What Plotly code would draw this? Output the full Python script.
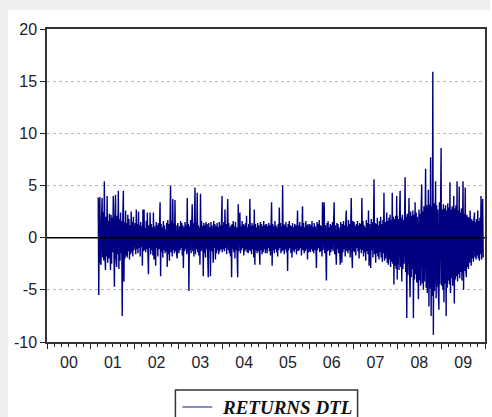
import pandas as pd
import plotly.graph_objects as go

# Daily returns of DTL (%), sampled per year
r2001 = [3.85, -5.5, 2.1, 3.9, -2.3, -2.6, 1.8, 3.8, -1.9, 2.4, -2.2, 5.4, -1.5, -3.1, 2.0, -1.8,
         4.0, -2.4, 1.6, -2.0, 2.3, -1.7, -3.1, 2.2, -2.5, 1.9, -1.4, 4.0, -2.0, -4.7, 1.7, 4.1,
         -1.9, -2.8, 2.1, -1.6, 4.5, -3.0, 1.8, -2.2, 2.4, -1.5, 1.6, -7.5, 1.9, 4.5, -4.2, 1.5,
         -2.0, 2.6, -1.7, 1.4, -1.9, 2.2, -1.3, 1.8, -2.1, 1.2, -1.6, 2.5, -1.4, 1.5, -1.8, 2.0,
         -1.2, 1.3]
r2002 = [-1.2, 1.4, -1.6, 2.7, -1.1, 1.3, -1.5, 2.5, -1.0, 1.2, -1.8, 1.5, -0.9, 1.1, -2.7, 2.7,
         -1.3, 2.7, -1.2, 0.9, -1.4, 1.6, -1.1, 2.4, -1.5, -3.5, 1.2, -1.0, 2.4, -1.6, 1.3, -1.2,
         1.0, -1.7, 2.4, -2.1, 1.1, -1.3, -2.7, 1.5, -1.0, 1.2, -1.8, 1.4, -1.1, 0.9, 3.4, -3.7,
         1.3, -1.4, 1.0, -1.9, 1.6, -1.2, 1.2, -1.5, 0.8, -1.3, 1.4, -2.8, 1.7, -1.6, 1.3, -2.2,
         1.5, 5.0, -1.4, 1.6, -1.8, 3.7, -1.2, 1.4, -1.5, 3.6, -1.3, 1.2, -1.6, -2.0, 1.4, -1.1]
r2003 = [1.3, -1.5, 1.1, -1.2, 1.6, -1.0, 1.4, -1.7, 1.2, -2.9, 1.0, -1.3, 1.5, -1.1, 1.2, -1.6,
         3.8, -1.4, 1.3, -5.1, 1.1, -1.2, 1.7, -1.5, 1.0, 3.2, -1.3, 1.4, -1.8, 1.2, 4.8, -1.6,
         1.5, -1.1, 4.3, -1.4, 1.2, -1.7, 1.0, -2.6, 4.2, -1.3, 1.6, -1.2, 1.1, -3.7, 1.4, -1.5,
         1.2, -1.9, 1.5, -1.1, 1.3, -1.6, -3.8, 1.4, -1.2, 1.0, -3.7, 1.5, -1.3, 1.2, -1.4, -2.4,
         1.6, -1.0, 1.3, -2.1, 1.1, -1.5, 1.4, -1.2, 1.0, -1.6, 1.5, -1.3, 1.2, -1.1, 1.7, 4.0]
r2004 = [-1.4, 1.2, -1.1, 1.5, -1.3, 2.7, -1.0, 1.3, -1.6, 1.1, 3.7, -1.2, 1.4, -1.5, 1.0, -1.8,
         1.2, -3.8, 1.3, -1.1, 1.6, -1.4, 1.1, -2.0, 1.5, -1.2, 1.0, -1.6, -3.8, 3.2, -1.3, 1.2,
         2.4, -1.5, 1.1, -1.2, 1.6, -1.0, 1.3, -1.7, 1.2, -1.3, 1.4, -1.1, 2.1, -1.4, 1.0, -1.5,
         1.3, -1.2, 3.7, -1.3, 1.1, -1.6, 1.4, -1.1, 1.2, -1.9, 2.7, -2.6, 1.3, -1.2, 1.0, -1.5,
         1.4, -1.3, 1.2, -1.0, -2.6, 1.5, -1.2, 1.3, -1.6, 1.1, -1.4, 1.6, -1.1, 1.2, -1.5, 1.3]
r2005 = [-1.2, 1.3, -1.5, 1.1, -1.0, 1.4, -1.3, 1.2, -1.7, 1.0, 3.4, -2.7, 1.3, -1.2, 1.1, -1.5,
         1.6, -1.1, 1.2, -1.4, 1.0, -1.8, 1.3, -1.2, 2.9, -1.0, 1.4, -1.5, 1.1, -1.3, 5.0, -1.2,
         1.3, -1.6, 1.2, -1.1, 1.5, -1.4, 1.0, -3.2, 1.3, -1.2, 1.6, -1.0, 1.2, -1.5, 1.1, -1.9,
         1.4, -1.2, 1.0, -1.4, 1.3, -1.1, 1.2, -1.6, 1.0, 2.6, -1.3, 1.2, -1.2, 1.5, -1.0, 1.1,
         -1.7, 1.3, 3.0, -1.2, 1.4, -1.5, 1.0, -1.3, 1.6, -1.1, 1.2, -2.1, 1.3, -1.4, 1.1, -1.2]
r2006 = [1.3, -1.4, 1.2, -1.1, 1.6, -1.3, 1.0, -1.5, 1.4, -1.2, 1.1, -1.6, -2.9, 1.5, -1.2, 1.3,
         -1.0, 1.7, -1.4, 1.2, -1.3, 1.1, -1.8, 3.4, -1.2, 1.3, 3.4, -1.5, 1.2, -1.1, -4.1, 1.4,
         -1.3, 1.6, -1.2, 1.0, -1.7, 1.3, -1.4, 1.2, -1.1, 1.5, -1.3, 1.1, 3.4, -1.6, 1.2, -1.2,
         -2.6, 1.4, -1.1, 1.3, -1.5, 1.0, -1.3, -2.6, 1.5, -1.2, -2.4, 1.3, -1.4, 1.6, -1.1, 1.2,
         -1.8, 1.4, 2.6, -1.3, 1.1, -1.5, 1.7, -1.2, 1.3, -1.9, 1.5, 3.8, -1.4, -2.9, 1.6, -1.3]
r2007 = [-1.2, 1.5, -1.4, 1.1, -1.7, 1.3, -1.0, 1.6, -1.3, 1.2, -2.0, 1.4, -1.1, 1.3, -1.5, 3.8,
         -1.2, 1.6, -1.8, 1.2, -1.4, 1.0, -2.2, 1.7, -1.3, 1.4, -1.6, 2.6, -2.7, 1.3, -1.5, -2.9,
         1.8, -1.2, 1.5, -1.9, 1.2, 5.6, -1.6, 1.4, -2.4, 1.3, -1.5, 1.9, -1.8, 1.2, -2.1, 1.6,
         -1.4, 2.0, -1.9, 1.3, -2.3, 1.7, -1.5, 4.3, -2.2, 1.5, -2.0, 1.8, 2.4, -2.4, 1.6, -2.6,
         1.9, -2.1, 2.2, -2.8, 1.7, -2.3, 4.3, -2.5, 2.0, -4.5, 1.8, -2.7, 2.1, -3.0, 4.0, -4.0]
r2008 = [2.1, -2.6, 1.8, -3.1, 2.3, 4.5, -2.8, 1.9, -4.2, 2.2, -3.0, 1.7, -2.5, 2.4, 5.8, -3.3,
         2.0, -7.7, 2.3, -3.6, 1.9, 3.8, -3.2, -5.7, 2.5, -3.8, 2.1, -3.0, 2.6, -7.7, 2.2, -4.0,
         3.4, -3.5, 2.4, -4.3, 2.0, -3.9, -5.9, 2.7, -4.1, 2.3, -4.6, 2.9, 5.1, -4.4, 2.5, -5.0,
         3.0, -4.2, 2.6, 6.6, -4.8, 3.1, -5.3, 2.8, 4.6, -6.6, 3.2, -4.9, 7.7, -7.5, 3.0, -5.6,
         15.9, -9.3, 3.3, -5.1, 2.9, 5.4, -5.8, 3.1, -4.7, 2.7, -5.2, -6.9, 3.4, -4.5, 3.0, 8.6]
r2009 = [3.0, -4.6, 2.7, -5.0, 3.2, -6.2, 2.8, -4.4, 3.1, -7.5, 2.6, -4.8, 3.3, -4.1, 2.9, -4.5,
         5.3, -5.3, 2.7, -3.9, 3.0, -4.6, 2.5, 4.0, -6.3, 2.8, -4.0, 3.1, -3.7, 5.4, -4.2, 2.6,
         -3.5, 4.9, -3.9, 2.4, -3.3, 2.8, -4.1, 2.5, 5.4, -5.0, 2.3, -3.2, 4.8, -2.9, -3.8, 2.2,
         -2.8, 2.0, -3.0, 1.9, -2.4, 2.6, -2.2, -2.7, 1.8, -2.0, 1.6, -2.3, 1.7, 2.4, -1.9, 1.5,
         -2.1, 1.8, -1.7, 2.6, -2.0, 1.6, -2.2, 1.9, -1.6, 4.0, -2.1, 1.7, 3.7, -1.9]

# (first date, last date, returns) for each year of the sample
segments = [
    ("2001-03-03", "2001-12-31", r2001),
    ("2002-01-01", "2002-12-31", r2002),
    ("2003-01-01", "2003-12-31", r2003),
    ("2004-01-01", "2004-12-31", r2004),
    ("2005-01-01", "2005-12-31", r2005),
    ("2006-01-01", "2006-12-31", r2006),
    ("2007-01-01", "2007-12-31", r2007),
    ("2008-01-01", "2008-12-31", r2008),
    ("2009-01-01", "2009-12-17", r2009),
]

dates, returns = [], []
for first, last, vals in segments:
    dates.extend(pd.date_range(first, last, periods=len(vals)))
    returns.extend(vals)

y_ticks = [-10, -5, 0, 5, 10, 15, 20]
y_tick_text = ["-10", "-5", "0", "5", "10", "15", "20"]
series_name = "RETURNS DTL"

L, R, T, B = 47, 5, 29, 75
W, H = 492, 417
pw, ph = W - L - R, H - T - B


def px_x(p):
    return (p - L) / pw


def px_y(p):
    return (H - B - p) / ph


fig = go.Figure()
fig.add_trace(go.Scatter(
    x=dates, y=returns, mode="lines",
    line=dict(color="#000080", width=1.4),
    name=series_name, showlegend=False, hoverinfo="skip",
))

tick_font = dict(family="Liberation Sans, Arial, sans-serif", size=16, color="#1c1c2c")

fig.update_layout(
    width=W, height=H,
    margin=dict(l=L, r=R, t=T, b=B),
    paper_bgcolor="white", plot_bgcolor="white",
    showlegend=False,
    xaxis=dict(
        type="date",
        range=["2000-01-01", "2010-01-01"],
        tick0="2000-01-01", dtick="M12", tickformat="%y",
        ticklabelmode="period",
        ticks="outside", ticklen=5, tickwidth=1, tickcolor="#222",
        minor=dict(dtick="M2", ticks="outside", ticklen=3, tickwidth=1, tickcolor="#222", showgrid=False),
        showgrid=False, zeroline=False,
        showline=True, mirror=True, linecolor="#333", linewidth=1.5,
        tickfont=tick_font,
    ),
    yaxis=dict(
        range=[-10, 20], tickvals=y_ticks, ticktext=y_tick_text,
        ticks="outside", ticklen=5, tickwidth=1, tickcolor="#222",
        showgrid=True, gridcolor="#b8b8b8", griddash="dot", gridwidth=1,
        zeroline=False,
        showline=True, mirror=True, linecolor="#333", linewidth=1.5,
        tickfont=tick_font,
    ),
)

shapes = [
    # zero reference line over the series
    dict(type="line", xref="paper", yref="y", x0=0, x1=1, y0=0, y1=0,
         line=dict(color="black", width=1.5), layer="above"),
    # legend frame
    dict(type="rect", xref="paper", yref="paper",
         x0=px_x(176), x1=px_x(359), y0=px_y(425), y1=px_y(390),
         line=dict(color="#333", width=1.5), fillcolor="white"),
    # legend line sample
    dict(type="line", xref="paper", yref="paper",
         x0=px_x(183), x1=px_x(213), y0=px_y(407), y1=px_y(407),
         line=dict(color="#3c3ca0", width=1.2)),
    # light page edges
    dict(type="rect", xref="paper", yref="paper",
         x0=px_x(0), x1=px_x(8), y0=px_y(H), y1=px_y(0),
         line=dict(width=0), fillcolor="#efefef", layer="below"),
    dict(type="rect", xref="paper", yref="paper",
         x0=px_x(0), x1=px_x(W), y0=px_y(10), y1=px_y(0),
         line=dict(width=0), fillcolor="#efefef", layer="below"),
]
fig.update_layout(shapes=shapes)

fig.add_annotation(
    xref="paper", yref="paper", x=px_x(221), y=px_y(407),
    xanchor="left", yanchor="middle", showarrow=False,
    text="<b><i>" + series_name + "</i></b>",
    font=dict(family="Liberation Serif, Times New Roman, serif", size=19, color="#111"),
)

fig.write_html("out.html")
